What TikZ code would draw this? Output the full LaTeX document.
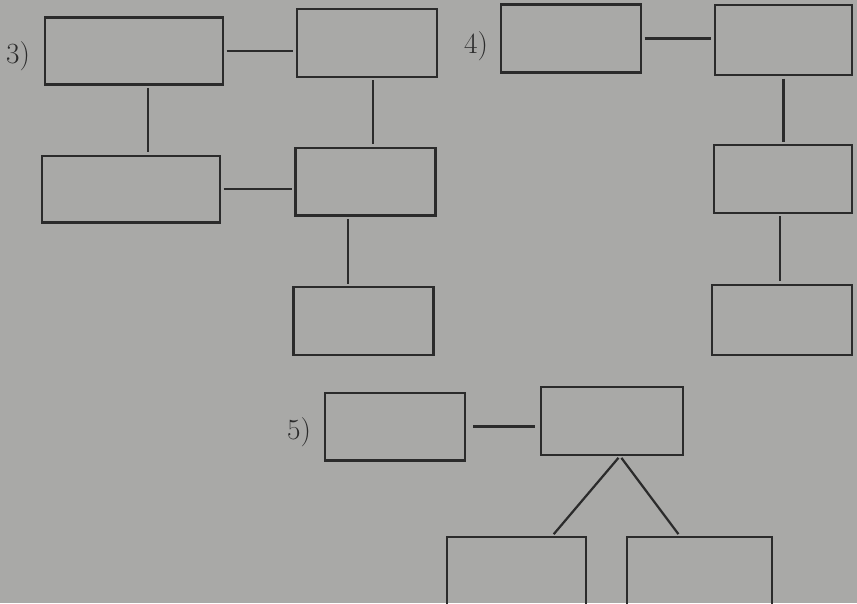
\documentclass[tikz,border=0pt]{standalone}
\definecolor{PaperGray}{HTML}{A9A9A7}
\definecolor{Ink}{HTML}{2B2B2B}
\usetikzlibrary{positioning,calc}

\begin{document}
\begin{tikzpicture}[x=0.03cm, y=-0.03cm, every node/.style={font=\fontsize{25}{30}\selectfont}]
\tikzset{blankbox/.style={draw=Ink, line width=2pt, inner sep=0pt, minimum width=4.2cm, minimum height=2.03cm}}
\tikzset{widebox/.style={blankbox, minimum width=5.34cm, minimum height=2cm}}
\tikzset{link/.style={draw=Ink, line width=1.9pt, shorten <=2pt, shorten >=2pt}}
\tikzset{tag/.style={inner sep=0pt, text=Ink}}
\fill[PaperGray] (0,0) rectangle (857,603);
\useasboundingbox (0,0) rectangle (857,603);
% 3)
\node[tag] (t3) at (18,56) {3)};
\node[widebox] (a) at (134,51) {};
\node[blankbox] (b) at (367,43) {};
\node[widebox] (c) at (131,189) {};
\node[blankbox] (d) at (365.5,181.5) {};
\node[blankbox] (e) at (363.5,321) {};
\draw[link] (a.east) -- (a.east -| b.west);
\draw[link] (c.east) -- (c.east -| d.west);
\draw[link] ([xshift=0.42cm]a.south) -- ([xshift=0.42cm]a.south |- c.north);
\draw[link] ([xshift=0.18cm]b.south) -- ([xshift=0.18cm]b.south |- d.north);
\draw[link] ([xshift=-0.53cm]d.south) -- ([xshift=-0.53cm]d.south |- e.north);
% 4)
\node[tag] (t4) at (476,46) {4)};
\node[blankbox] (f) at (571,38.5) {};
\node[blankbox, minimum width=4.11cm, minimum height=2.1cm] (g) at (783.5,40) {};
\node[blankbox, minimum width=4.14cm] (h) at (783,179) {};
\node[blankbox, minimum height=2.1cm] (i) at (782,320) {};
\draw[link] (f.east) -- (f.east -| g.west);
\draw[link] (g.south) -- (g.south |- h.north);
\draw[link] ([xshift=-0.09cm]h.south) -- ([xshift=-0.09cm]h.south |- i.north);
% 5)
\node[tag] (t5) at (299,432) {5)};
\node[blankbox] (j) at (395,426.5) {};
\node[blankbox, minimum width=4.26cm] (k) at (612,421) {};
\node[blankbox, minimum width=4.17cm] (l) at (516.5,571) {};
\node[blankbox, minimum width=4.35cm] (m) at (699.5,571) {};
\draw[link, shorten <=6pt, shorten >=4pt] (j.east) -- (j.east -| k.west);
\draw[link] ([xshift=0.24cm]k.south) -- ([xshift=1.07cm]l.north);
\draw[link] ([xshift=0.24cm]k.south) -- ([xshift=-0.59cm]m.north);
\end{tikzpicture}
\end{document}
